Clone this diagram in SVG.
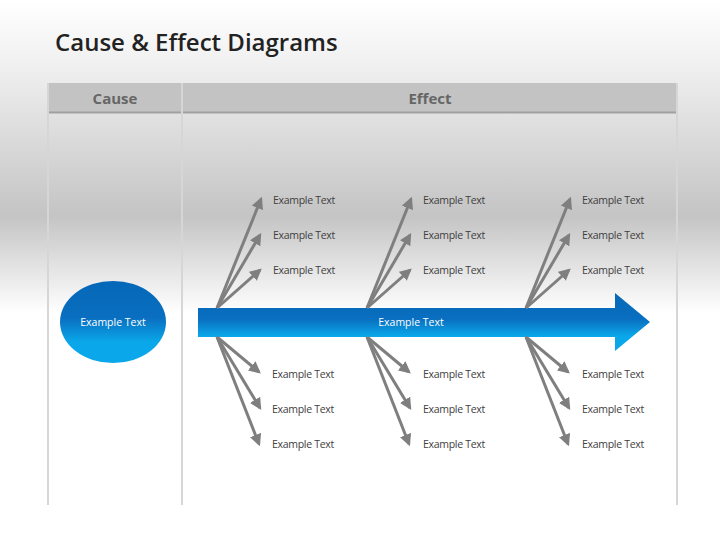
<svg xmlns="http://www.w3.org/2000/svg" width="720" height="540" viewBox="0 0 720 540">
<defs>
<linearGradient id="bg" x1="0" y1="0" x2="0" y2="1">
<stop offset="0" stop-color="#ffffff"/><stop offset="0.12" stop-color="#f0f0f0"/><stop offset="0.4" stop-color="#c4c4c4"/><stop offset="0.58" stop-color="#ffffff"/><stop offset="1" stop-color="#ffffff"/>
</linearGradient>
<linearGradient id="blue" x1="0" y1="0" x2="0" y2="1">
<stop offset="0" stop-color="#0567b8"/><stop offset="0.45" stop-color="#0a6fc0"/><stop offset="0.75" stop-color="#0aa8ea"/><stop offset="1" stop-color="#0aa8ea"/>
</linearGradient>
<marker id="ah" viewBox="0 0 10 10" refX="8" refY="5" markerWidth="4" markerHeight="4" orient="auto"><path d="M0,0L10,5L0,10z" fill="#7f7f7f"/></marker>
<style>
.t{font-family:"Open Sans","Liberation Sans",sans-serif;font-size:10.5px;fill:#404040;letter-spacing:-0.3px}
.h{font-family:"Open Sans","Liberation Sans",sans-serif;font-size:15px;font-weight:bold;fill:#666}
.c line{stroke:#7f7f7f;stroke-width:3;marker-end:url(#ah)}
</style>
</defs>
<rect width="720" height="540" fill="url(#bg)"/>
<text x="55" y="51" font-family="'Open Sans','Liberation Sans',sans-serif" font-size="24" font-weight="600" fill="#222">Cause &amp; Effect Diagrams</text>
<g id="header">
<rect x="48" y="83" width="629" height="29" fill="#c3c3c3"/>
<line x1="48" y1="112.5" x2="677" y2="112.5" stroke="#a0a0a0" stroke-width="2"/>
<line x1="182" y1="83" x2="182" y2="505" stroke="#d6d6d6" stroke-width="2"/>
<line x1="48" y1="83" x2="48" y2="505" stroke="#d6d6d6" stroke-width="2"/>
<line x1="677" y1="83" x2="677" y2="505" stroke="#d6d6d6" stroke-width="2"/>
<text class="h" x="115" y="104" text-anchor="middle">Cause</text>
<text class="h" x="430" y="104" text-anchor="middle">Effect</text>
</g>
<g id="cause">
<ellipse cx="113" cy="322" rx="53" ry="41" fill="url(#blue)"/>
<text x="113" y="326" text-anchor="middle" font-family="'Open Sans','Liberation Sans',sans-serif" font-size="10.5" fill="#fff">Example Text</text>
</g>
<g id="effect">
<path d="M198,308H615V293L650,322L615,351V337H198Z" fill="url(#blue)"/>
<text x="411" y="326" text-anchor="middle" font-family="'Open Sans','Liberation Sans',sans-serif" font-size="10.5" fill="#fff">Example Text</text>
</g>
<g id="connectors" class="c">
<line x1="217" y1="308" x2="261" y2="199"/><line x1="217" y1="308" x2="260" y2="235"/><line x1="217" y1="308" x2="260" y2="270"/>
<line x1="217" y1="337" x2="259" y2="372"/><line x1="217" y1="337" x2="260" y2="408"/><line x1="217" y1="337" x2="259" y2="444"/>
<line x1="367" y1="308" x2="411" y2="199"/><line x1="367" y1="308" x2="410" y2="235"/><line x1="367" y1="308" x2="410" y2="270"/>
<line x1="367" y1="337" x2="409" y2="372"/><line x1="367" y1="337" x2="410" y2="408"/><line x1="367" y1="337" x2="409" y2="444"/>
<line x1="526" y1="308" x2="570" y2="199"/><line x1="526" y1="308" x2="569" y2="235"/><line x1="526" y1="308" x2="569" y2="270"/>
<line x1="526" y1="337" x2="568" y2="372"/><line x1="526" y1="337" x2="569" y2="408"/><line x1="526" y1="337" x2="568" y2="444"/>
</g>
<g id="labels">
<text class="t" x="273" y="204">Example Text</text><text class="t" x="423" y="204">Example Text</text><text class="t" x="582" y="204">Example Text</text>
<text class="t" x="273" y="239">Example Text</text><text class="t" x="423" y="239">Example Text</text><text class="t" x="582" y="239">Example Text</text>
<text class="t" x="273" y="274">Example Text</text><text class="t" x="423" y="274">Example Text</text><text class="t" x="582" y="274">Example Text</text>
<text class="t" x="272" y="378">Example Text</text><text class="t" x="423" y="378">Example Text</text><text class="t" x="582" y="378">Example Text</text>
<text class="t" x="272" y="413">Example Text</text><text class="t" x="423" y="413">Example Text</text><text class="t" x="582" y="413">Example Text</text>
<text class="t" x="272" y="448">Example Text</text><text class="t" x="423" y="448">Example Text</text><text class="t" x="582" y="448">Example Text</text>
</g>
</svg>
